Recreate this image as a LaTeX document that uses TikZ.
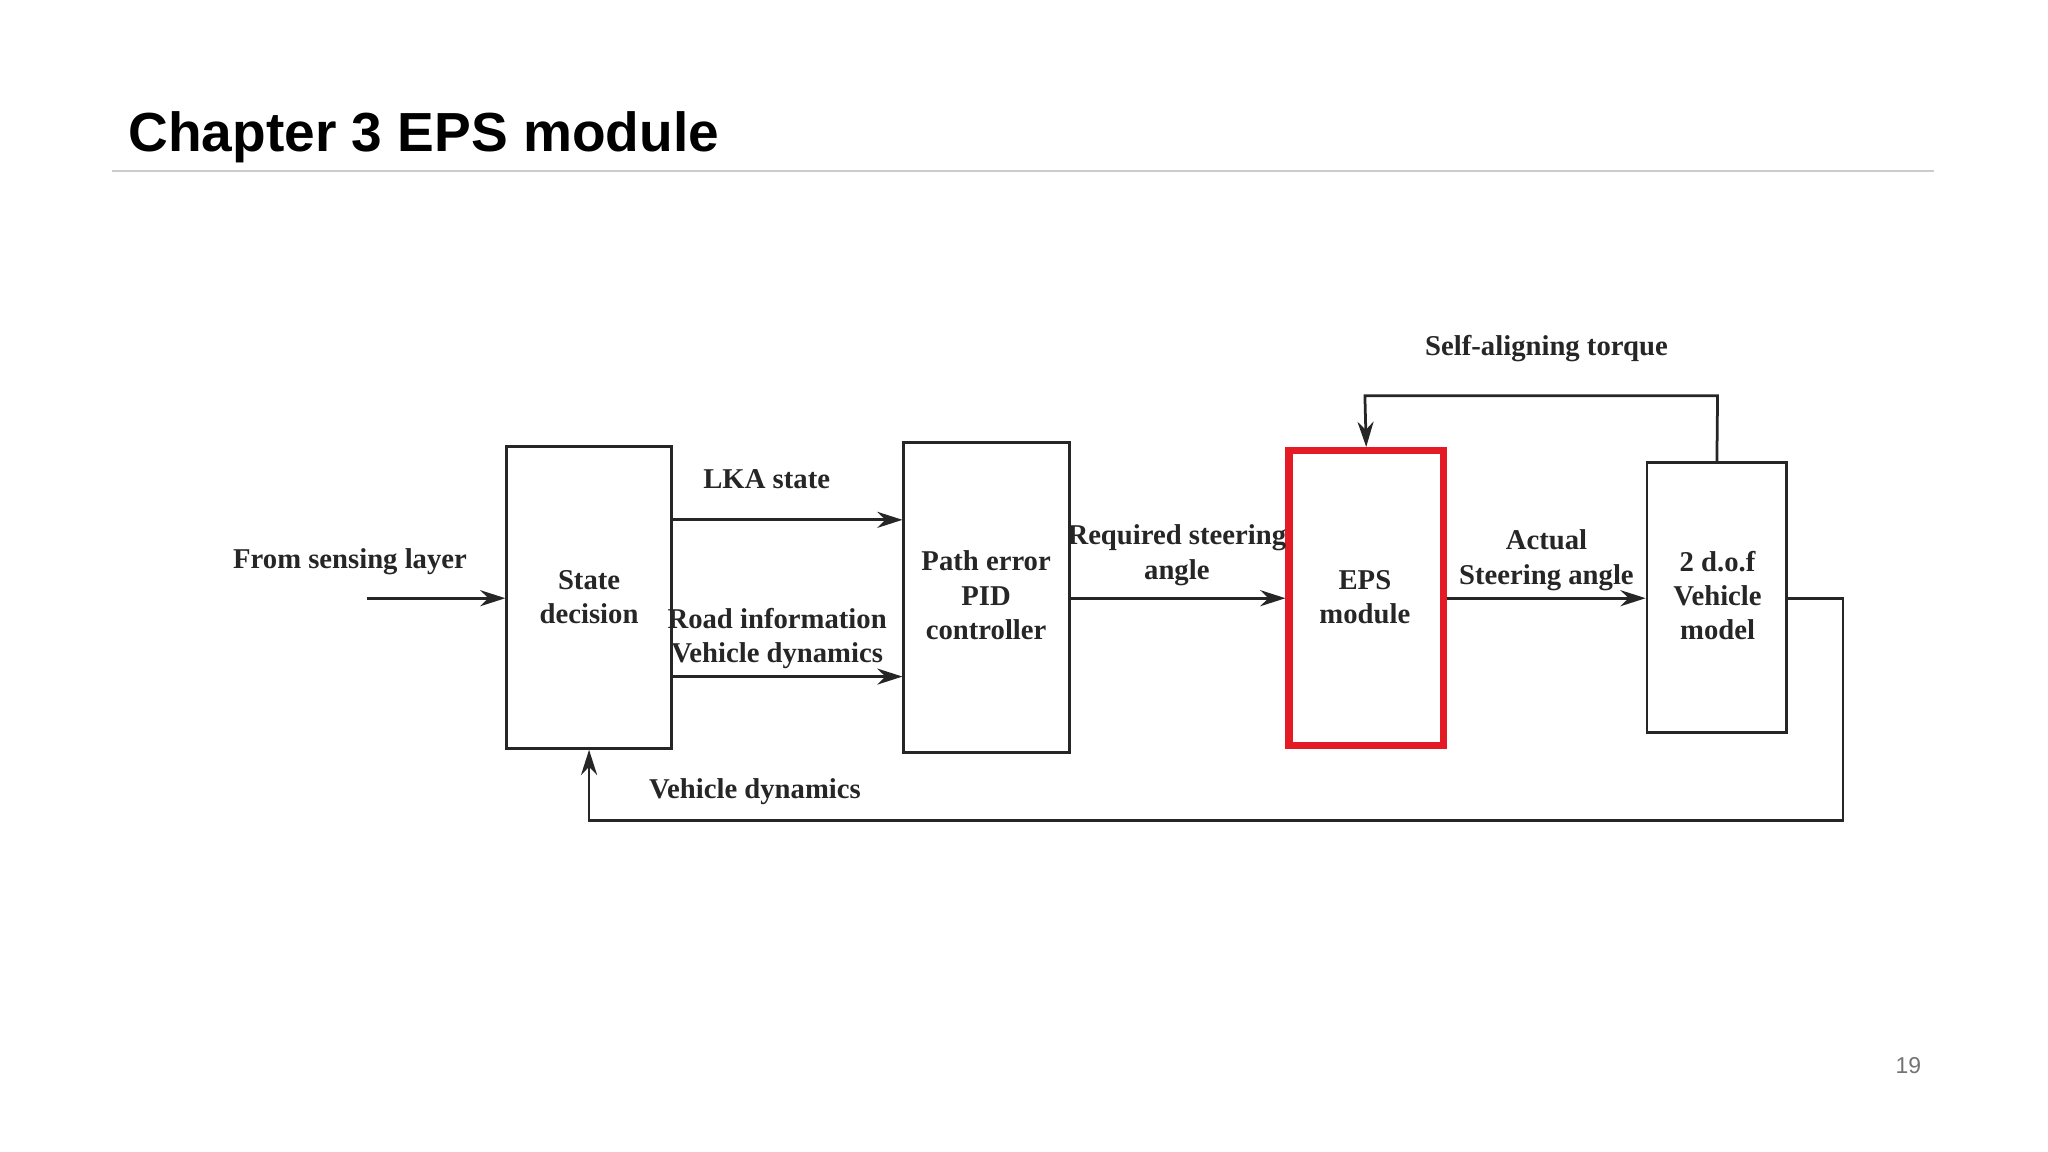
\documentclass[tikz,border=0pt]{standalone}
\usepackage{fontspec}
\setmainfont{Liberation Serif}
\newfontfamily\sansf{Liberation Sans}
\usetikzlibrary{arrows.meta}
\begin{document}
\begin{tikzpicture}[x=0.02cm,y=-0.02cm,
  blk/.style={draw=black!85,line width=1.2pt,inner sep=0pt},
  arr/.style={draw=black!85,line width=1.2pt,-{Stealth[length=11pt,width=7pt]}},
  ln/.style={draw=black!85,line width=1.2pt},
  lbl/.style={font=\fontsize{12.5}{15}\selectfont\bfseries,text=black!85,align=center,inner sep=0pt}]
\useasboundingbox (0,0) rectangle (1568,882);
\node[anchor=base west,font=\sansf\fontsize{24}{28}\selectfont\bfseries,inner sep=0pt] (title) at (98,116) {Chapter 3 EPS module};
\draw[black!20,line width=0.6pt] (86,131) -- (1481,131);
\node[blk,minimum width=126*0.02cm,minimum height=231*0.02cm] (sd) at (451,457.5) {};
\node[lbl] (sdt) at (451,457) {State\\decision};
\node[blk,minimum width=127*0.02cm,minimum height=237*0.02cm] (pe) at (755.5,457.5) {};
\node[lbl] (pet) at (755,456) {Path error\\PID\\controller};
\node[draw={rgb,255:red,228;green,26;blue,36},line width=3.2pt,minimum width=118*0.02cm,minimum height=226*0.02cm,inner sep=0pt] (eps) at (1046,458) {};
\node[lbl] (epst) at (1045,457) {EPS\\module};
\node[blk,minimum width=107*0.02cm,minimum height=207*0.02cm] (vm) at (1314.5,457.5) {};
\node[lbl] (vmt) at (1315,456) {2 d.o.f\\Vehicle\\model};
\coordinate (src) at (281,458);
\draw[arr] (src) -- (sd.west|-src);
\node[lbl] (l1) at (268,430) {From sensing layer};
\draw[arr] (sd.east|-0,398) -- (pe.west|-0,398);
\node[lbl] (l2) at (587,367) {LKA state};
\draw[arr] (sd.east|-0,518) -- (pe.west|-0,518);
\node[lbl] (l3) at (595,489) {Road information\\Vehicle dynamics};
\draw[arr] (pe.east|-0,458) -- (eps.west|-0,458);
\node[lbl] (l4) at (901,425) {Required steering\\angle};
\draw[arr] (eps.east|-0,458) -- (vm.west|-0,458);
\node[lbl] (l5) at (1184,429) {Actual\\Steering angle};
\draw[arr] (vm.north) -- (1315,303) -- (1045,303) -- (eps.north);
\node[lbl] (l6) at (1184,267) {Self-aligning torque};
\draw[arr] (vm.east|-0,458) -- (1411,458) -- (1411,628) -- (451,628) -- (sd.south);
\node[lbl] (l7) at (578,606) {Vehicle dynamics};
\node[font=\sansf\fontsize{10}{12}\selectfont,text=black!55] (pg) at (1461,816) {19};
\end{tikzpicture}
\end{document}
